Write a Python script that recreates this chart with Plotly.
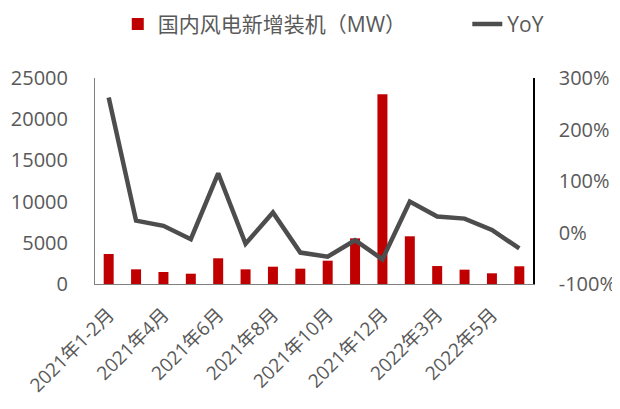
import plotly.graph_objects as go

categories = ["2021年1-2月", "2021年3月", "2021年4月", "2021年5月", "2021年6月", "2021年7月",
              "2021年8月", "2021年9月", "2021年10月", "2021年11月", "2021年12月",
              "2022年1-2月", "2022年3月", "2022年4月", "2022年5月", "2022年6月"]
new_capacity_mw = [3640, 1780, 1460, 1250, 3120, 1780, 2100, 1860, 2830, 5540, 23020,
                   5790, 2180, 1740, 1300, 2150]
yoy_pct = [262, 23, 13, -13, 115, -22, 39, -39, -47, -15, -52, 60, 31, 27, 5, -31]
tick_labels = categories[::2]
left_ticks = [0, 5000, 10000, 15000, 20000, 25000]
left_tick_text = ["0", "5000", "10000", "15000", "20000", "25000"]
right_ticks = [-100, 0, 100, 200, 300]
right_tick_text = ["-100%", "0%", "100%", "200%", "300%"]

FONT = "Open Sans, Noto Sans CJK SC"
GREY = "#595959"

fig = go.Figure()
fig.add_trace(go.Bar(x=categories, y=new_capacity_mw, name="国内风电新增装机（MW）",
                     marker=dict(color="#c00000", line=dict(width=0)), yaxis="y",
                     legend="legend"))
fig.add_trace(go.Scatter(x=categories, y=yoy_pct, name="YoY", mode="lines",
                         line=dict(color="#4d4d4d", width=4.5), yaxis="y2",
                         legend="legend2"))

legend_common = dict(orientation="h", yanchor="top", y=1.36, xanchor="left",
                     font=dict(size=21, color=GREY, family=FONT), itemwidth=30,
                     bgcolor="rgba(0,0,0,0)")

fig.update_layout(
    width=612, height=401,
    margin=dict(l=87, r=87, t=70, b=125, autoexpand=False),
    paper_bgcolor="white", plot_bgcolor="white",
    font=dict(family=FONT, color=GREY),
    bargap=0.635,
    showlegend=True,
    legend=dict(x=0.052, **legend_common),
    legend2=dict(x=0.85, **legend_common),
    xaxis=dict(type="category", tickmode="array", tickvals=tick_labels, ticktext=tick_labels,
               tickangle=-45, tickfont=dict(size=19, color=GREY, family=FONT),
               showline=True, linecolor="#7f7f7f", linewidth=1, showgrid=False,
               ticks="", automargin=False, ticklabelstandoff=11),
    yaxis=dict(range=[0, 25000], tickmode="array", tickvals=left_ticks, ticktext=left_tick_text,
               showgrid=False, zeroline=False, automargin=False,
               showline=True, linecolor="#7f7f7f", linewidth=1,
               tickfont=dict(size=20, color=GREY, family=FONT), ticklabelstandoff=22),
    yaxis2=dict(range=[-100, 300], tickmode="array", tickvals=right_ticks, ticktext=right_tick_text,
                overlaying="y", side="right", showgrid=False, zeroline=False, showline=True,
                linecolor="#000000", linewidth=1.5, automargin=False,
                tickfont=dict(size=20, color=GREY, family=FONT), ticklabelstandoff=20),
)

fig.write_html("out.html")
